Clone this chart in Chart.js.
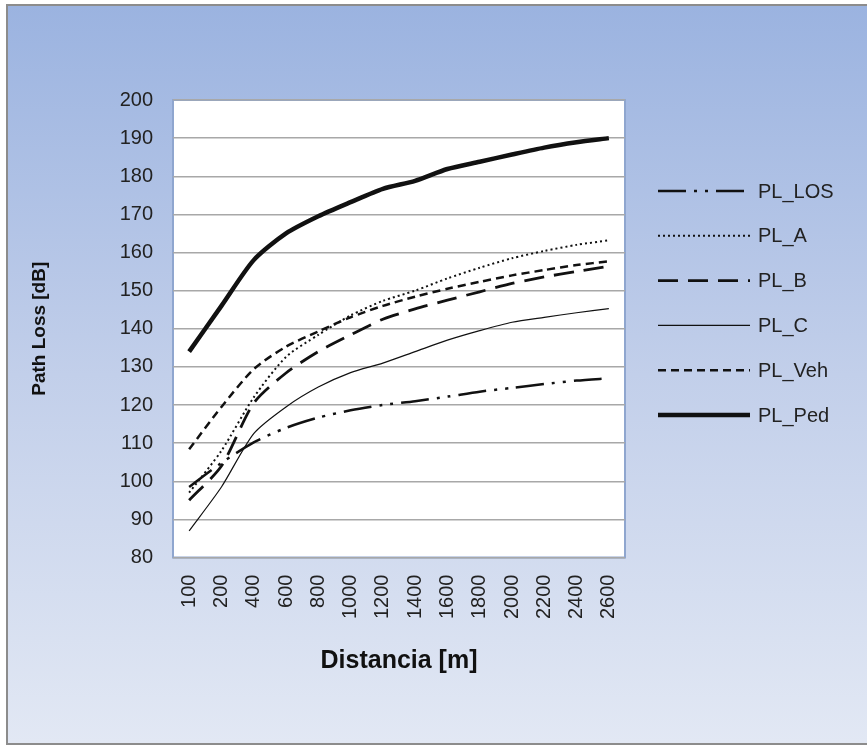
<!DOCTYPE html>
<html>
<head>
<meta charset="utf-8">
<script src="https://cdn.jsdelivr.net/npm/chart.js@4.4.0/dist/chart.umd.min.js"></script>
<style>
  html, body { margin: 0; padding: 0; }
  body { width: 867px; height: 748px; position: relative; overflow: hidden; background: #fff; }
  #frame { position: absolute; left: 6px; top: 4px; width: 870px; height: 737px;
           border: 2px solid #8c8c8c; border-right: none;
           background: linear-gradient(to bottom, #9bb3e0 0%, #c2cfea 50%, #e2e8f4 100%); }
  #wrap { position: absolute; left: 0; top: 0; width: 867px; height: 748px; }
</style>
</head>
<body>
<div id="frame"></div>
<div id="wrap"><canvas id="pathLossChart"></canvas></div>
<script>
// distancias en metros (categorias del eje x)
var distancias = ['100', '200', '400', '600', '800', '1000', '1200', '1400', '1600', '1800', '2000', '2200', '2400', '2600'];

// path loss en dB
var plLOS = [98.5, 104.8, 110.2, 114, 116.7, 118.6, 120, 121, 122.2, 123.5, 124.5, 125.5, 126.4, 127];
var plA   = [97, 108, 122, 132.6, 138.4, 143.5, 147.3, 150, 153.2, 156, 158.5, 160.4, 162, 163.2];
var plB   = [95, 104, 120.5, 128.4, 134, 138.4, 142.5, 145.2, 147.5, 149.7, 151.9, 153.6, 155, 156.4];
var plC   = [87, 98.5, 112.5, 119.5, 124.7, 128.5, 131, 134, 137, 139.5, 141.7, 143, 144.2, 145.3];
var plVeh = [108.4, 119.5, 129.4, 135.3, 139.3, 143, 146, 148.4, 150.5, 152.3, 154, 155.4, 156.7, 157.7];
var plPed = [134, 146, 158, 165, 169.5, 173.2, 176.7, 178.8, 181.9, 183.8, 185.7, 187.5, 188.9, 190];

var yMin = 80;
var yMax = 200;
var yStep = 10;

var fontFam = "'Liberation Sans', Arial, sans-serif";

function serie(label, data, width, dash) {
  return {
    label: label,
    data: data,
    borderColor: '#111',
    backgroundColor: '#111',
    borderWidth: width,
    borderDash: dash,
    pointRadius: 0,
    pointHoverRadius: 0,
    tension: 0.25,
    fill: false
  };
}

var datasetsPL = [
  serie('PL_LOS', plLOS, 2.5, [28, 8, 3, 8, 3, 8]),
  serie('PL_A', plA, 2, [2, 3]),
  serie('PL_B', plB, 2.8, [20, 10]),
  serie('PL_C', plC, 1.2, []),
  serie('PL_Veh', plVeh, 2.5, [8, 5]),
  serie('PL_Ped', plPed, 4.5, [])
];

// fondo blanco y borde del area de trazado
var plotArea = {
  id: 'plotArea',
  beforeDraw: function (chart) {
    var a = chart.chartArea;
    var ctx = chart.ctx;
    ctx.save();
    ctx.fillStyle = '#ffffff';
    ctx.fillRect(a.left, a.top, a.right - a.left, a.bottom - a.top);
    ctx.strokeStyle = '#8fa6cf';
    ctx.lineWidth = 2;
    ctx.strokeRect(a.left, a.top, a.right - a.left, a.bottom - a.top);
    ctx.restore();
  }
};

// leyenda a la derecha con el estilo de cada linea
// (la leyenda de Chart.js se recorta: el ancho maximo de la caja no alcanza)
var legendPL = {
  id: 'legendPL',
  afterDraw: function (chart) {
    var ctx = chart.ctx;
    var a = chart.chartArea;
    var x0 = a.right + 33;
    var x1 = x0 + 92;
    var y0 = 191;
    var dy = 44.8;
    chart.data.datasets.forEach(function (ds, i) {
      var y = y0 + i * dy;
      ctx.save();
      ctx.strokeStyle = ds.borderColor;
      ctx.lineWidth = ds.borderWidth;
      ctx.lineCap = 'butt';
      ctx.setLineDash(ds.borderDash);
      ctx.beginPath();
      ctx.moveTo(x0, y);
      ctx.lineTo(x1, y);
      ctx.stroke();
      ctx.setLineDash([]);
      ctx.fillStyle = '#222';
      ctx.font = '20px ' + fontFam;
      ctx.textBaseline = 'middle';
      ctx.fillText(ds.label, x1 + 8, y + 1);
      ctx.restore();
    });
  }
};

var configPL = {
  type: 'line',
  data: {
    labels: distancias,
    datasets: datasetsPL
  },
  options: {
    responsive: true,
    maintainAspectRatio: false,
    animation: false,
    layout: {
      padding: { left: 24, top: 100, right: 242, bottom: 68 }
    },
    plugins: {
      tooltip: { enabled: false },
      legend: { display: false }
    },
    scales: {
      x: {
        type: 'category',
        offset: true,
        grid: { display: false },
        border: { display: false },
        ticks: {
          autoSkip: false,
          maxRotation: 90,
          minRotation: 90,
          padding: 9,
          color: '#222',
          font: { size: 20, family: fontFam }
        },
        title: {
          display: true,
          text: 'Distancia [m]',
          color: '#111',
          padding: { top: 18, bottom: 4 },
          font: { size: 25, weight: 'bold', family: fontFam }
        }
      },
      y: {
        min: yMin,
        max: yMax,
        afterFit: function (scale) { scale.width = 149; },
        grid: { color: '#a8a8a8', lineWidth: 1.5, drawTicks: false },
        border: { display: false },
        ticks: {
          stepSize: yStep,
          padding: 20,
          color: '#222',
          font: { size: 20, family: fontFam }
        },
        title: {
          display: true,
          text: 'Path Loss [dB]',
          color: '#111',
          padding: { top: 4, bottom: 0 },
          font: { size: 19, weight: 'bold', family: fontFam }
        }
      }
    }
  },
  plugins: [plotArea, legendPL]
};

function showChartPL() {
  var ctxPL = document.getElementById('pathLossChart');
  var chartPL = Chart.getChart(ctxPL);
  if (chartPL) {
    chartPL.destroy();
  }
  chartPL = new Chart(ctxPL, configPL);
}

showChartPL();
</script>
</body>
</html>
